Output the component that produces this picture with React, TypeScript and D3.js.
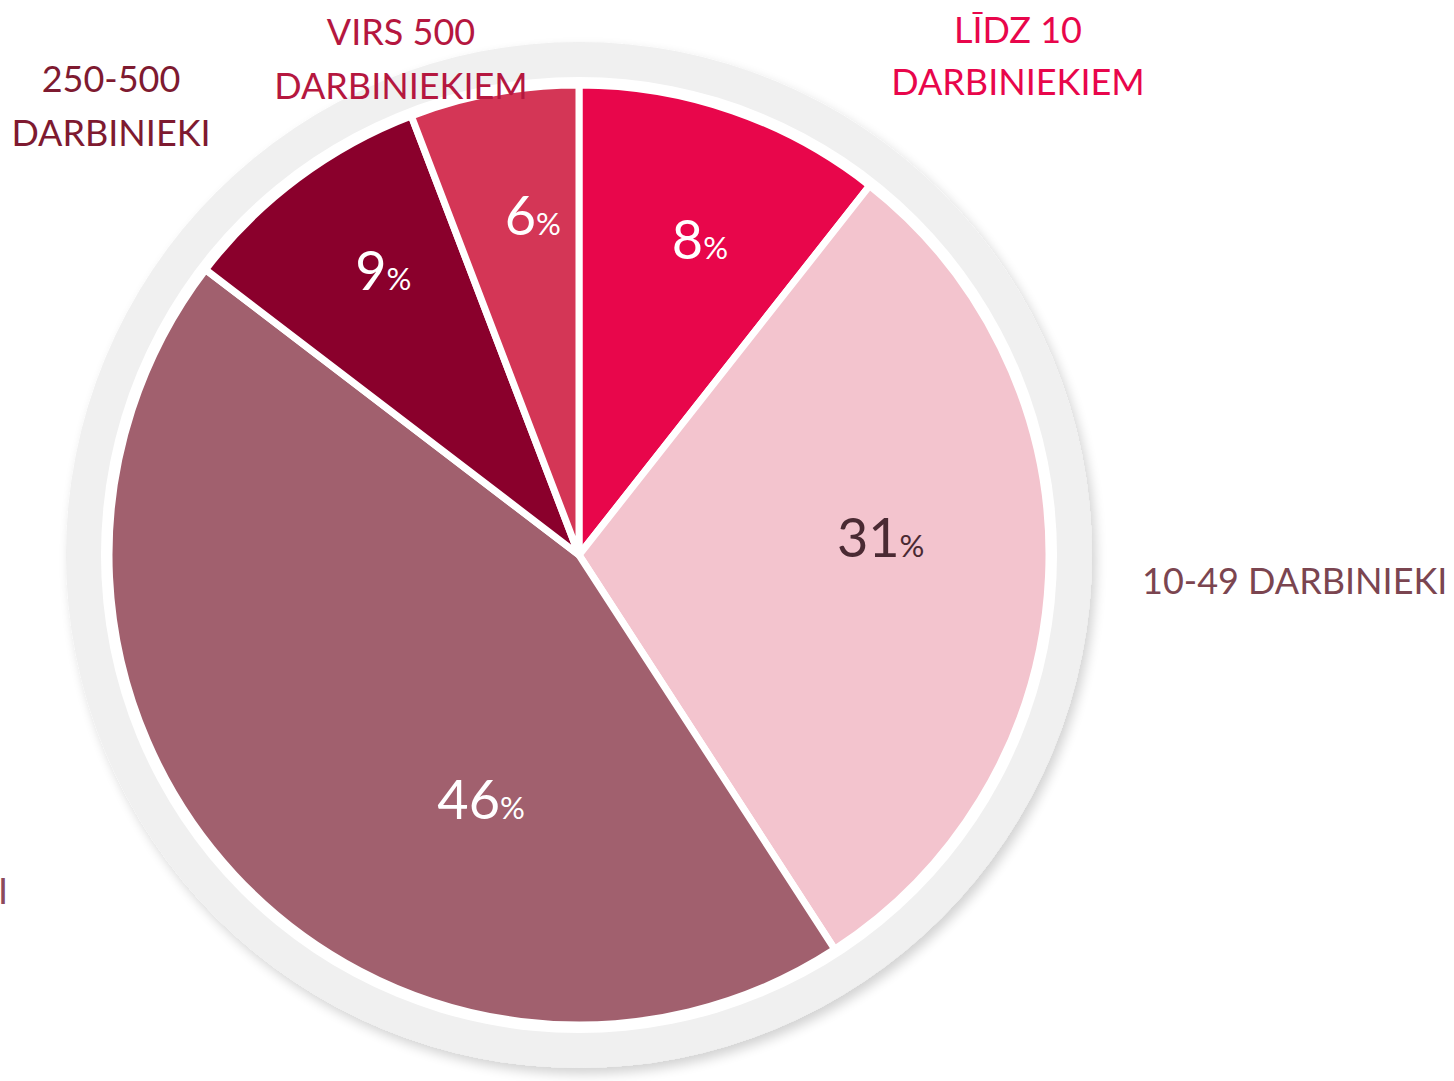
import React from "react";
import * as d3 from "d3";

const categories = ["LĪDZ 10 DARBINIEKIEM", "10-49 DARBINIEKI", "50-249 DARBINIEKI", "250-500 DARBINIEKI", "VIRS 500 DARBINIEKIEM"];
const sliceValues = [10.6, 30.2, 44.5, 8.8, 5.8];
const percentLabels = [8, 31, 46, 9, 6];
const categoryLines = [["LĪDZ 10", "DARBINIEKIEM"], ["10-49 DARBINIEKI"], ["50-249 DARBINIEKI"], ["250-500", "DARBINIEKI"], ["VIRS 500", "DARBINIEKIEM"]];

const sliceColors = ["#E8064B", "#F3C4CE", "#A1606E", "#8A002C", "#D43656"];
const pctColors = ["#FFFFFF", "#4A2A33", "#FFFFFF", "#FFFFFF", "#FFFFFF"];
const catColors = ["#E8064B", "#7B4550", "#8B4A5C", "#7E1A30", "#B5173F"];

// label placement (polar, relative to pie center)
const pctAngle = [21.1, 87.2, 201.6, 325.2, 352.2];
const pctRadius = [336, 302, 266, 343, 340];
const catAnchor: ("middle" | "start" | "end")[] = ["middle", "start", "end", "middle", "middle"];
const catX = [1018, 1142, 8, 111, 401];
const catY = [[43, 95], [594], [904], [92, 146], [45, 99]];

const W = 1454, H = 1081;
const CX = 579, CY = 555, R = 470;

export default function App() {
  const pie = d3.pie<number>().sort(null).value((d) => d).startAngle(0).endAngle(2 * Math.PI);
  const arcs = pie(sliceValues);
  const arc = d3.arc<d3.PieArcDatum<number>>().innerRadius(0).outerRadius(R);
  const font = "Lato, 'Open Sans', sans-serif";
  return (
    <svg width={W} height={H} style={{ position: "absolute", left: 0, top: 0, background: "#fff" }} fontFamily={font}>
      <defs>
        <filter id="sh" x="-10%" y="-10%" width="120%" height="120%">
          <feGaussianBlur in="SourceAlpha" stdDeviation="6" />
          <feOffset dx="4" dy="6" result="b" />
          <feComponentTransfer><feFuncA type="linear" slope="0.18" /></feComponentTransfer>
          <feMerge><feMergeNode /><feMergeNode in="SourceGraphic" /></feMerge>
        </filter>
      </defs>
      <circle cx={CX} cy={CY} r={513} fill="#F0F0F0" filter="url(#sh)" />
      <circle cx={CX} cy={CY} r={478} fill="#FFFFFF" />
      <g transform={`translate(${CX},${CY})`}>
        {arcs.map((a, i) => (
          <path key={categories[i]} d={arc(a) || ""} fill={sliceColors[i]} stroke="#fff" strokeWidth={7} strokeLinejoin="round" />
        ))}
        {arcs.map((a, i) => {
          const ang = (pctAngle[i] * Math.PI) / 180;
          const x = pctRadius[i] * Math.sin(ang);
          const y = -pctRadius[i] * Math.cos(ang) + 17;
          return (
            <text key={"p" + i} x={x} y={y} textAnchor="middle" fill={pctColors[i]}>
              <tspan fontSize={54}>{percentLabels[i]}</tspan>
              <tspan fontSize={31}>%</tspan>
            </text>
          );
        })}
      </g>
      {categoryLines.map((lines, i) =>
        lines.map((ln, j) => (
          <text key={"c" + i + "-" + j} x={catX[i]} y={catY[i][j]} textAnchor={catAnchor[i]} fill={catColors[i]} fontSize={36}>
            {ln}
          </text>
        ))
      )}
    </svg>
  );
}
